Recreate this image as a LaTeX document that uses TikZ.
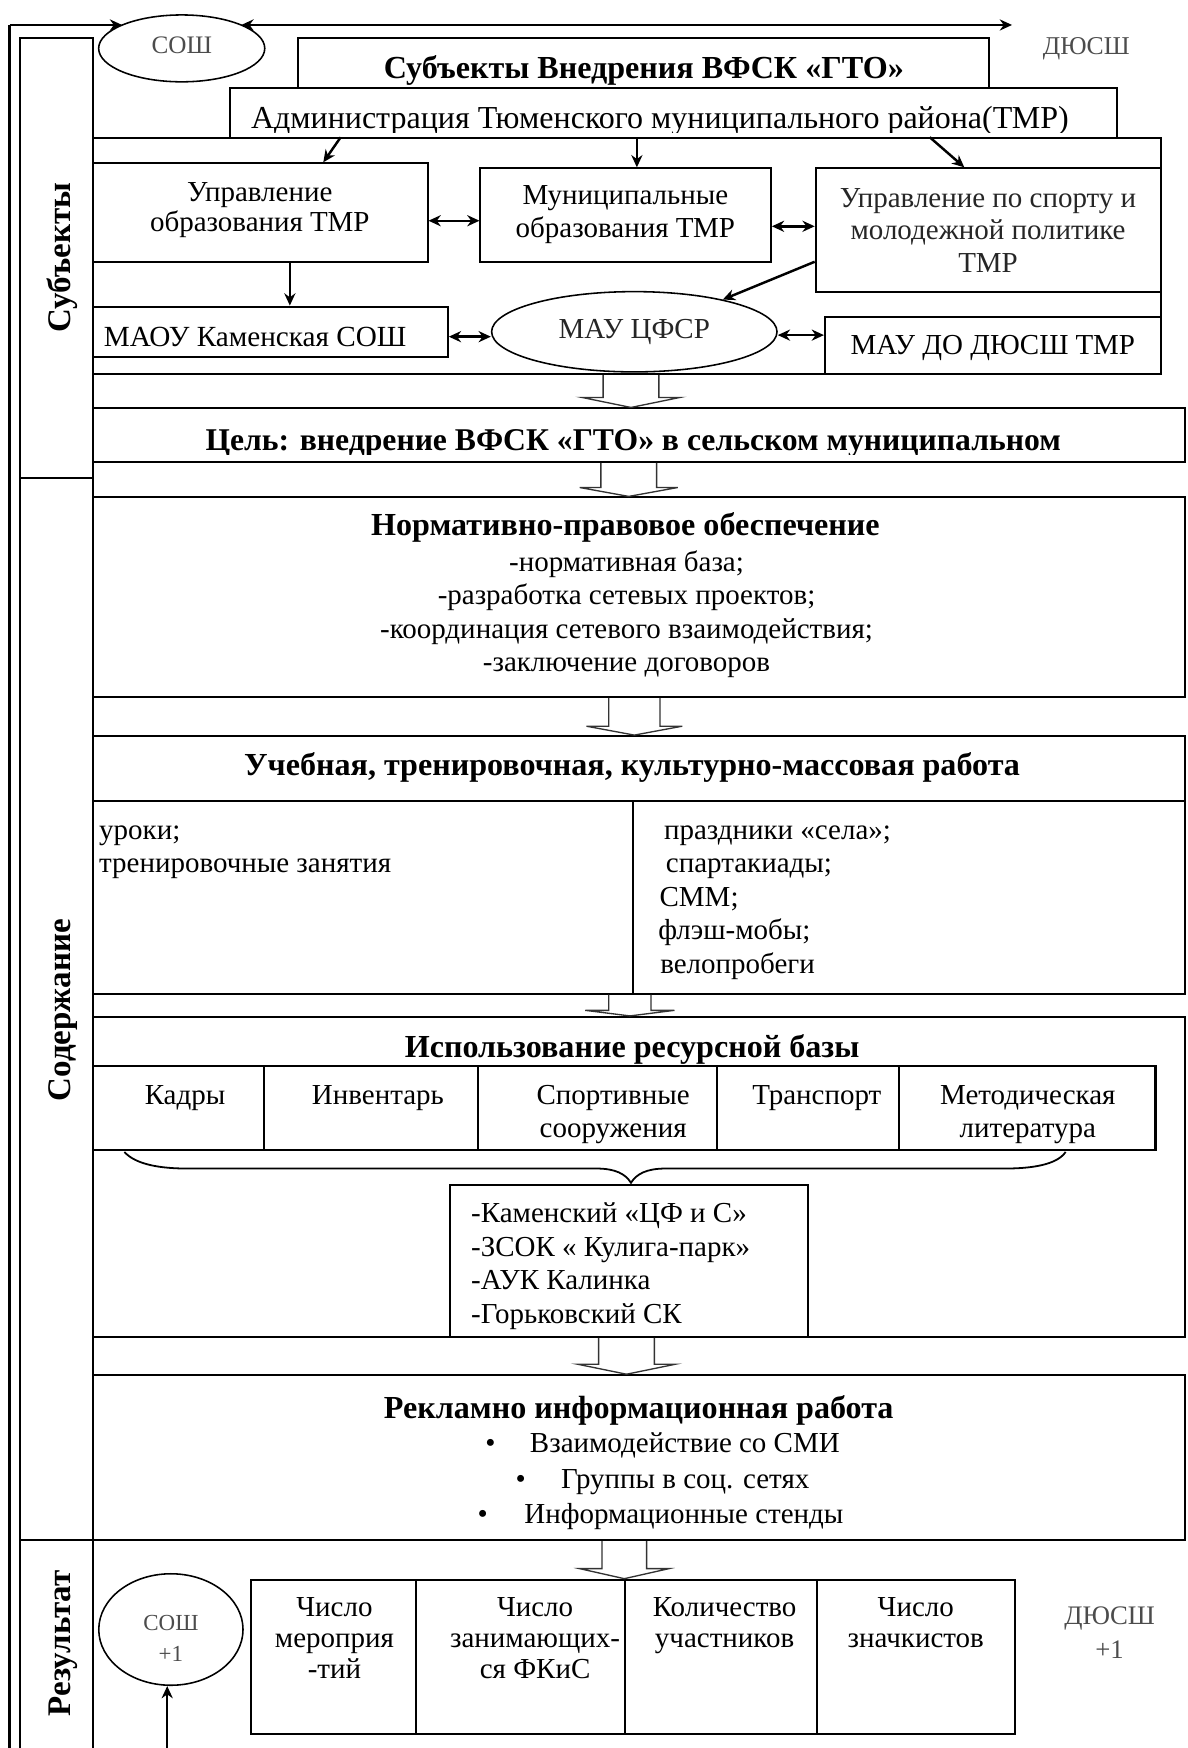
\documentclass[tikz,border=0pt]{standalone}
\usepackage{fontspec}
\setmainfont{Liberation Serif}
\usetikzlibrary{arrows.meta,fit,calc,shapes.geometric}
\newcommand{\ftn}{\fontsize{13}{15}\selectfont}
\newcommand{\fbd}{\fontsize{14.4}{16}\selectfont\bfseries}
\newcommand{\flab}{\fontsize{14.8}{16}\selectfont\bfseries}
\newcommand{\fadm}{\fontsize{14.35}{16}\selectfont}
\newcommand{\fsm}{\fontsize{11.3}{13}\selectfont}
\definecolor{gt}{gray}{0.3}
\tikzset{
  bx/.style={draw, line width=0.9pt, inner sep=0pt, fill=white},
  el/.style={draw, ellipse, line width=0.7pt, inner sep=0pt, fill=white},
  tx/.style={inner sep=0pt, font=\ftn, align=center},
  tb/.style={inner sep=0pt, font=\fbd, align=center},
  lab/.style={inner sep=0pt, font=\flab, rotate=90},
  arr/.style={line width=1.1pt, -{Stealth[length=5.5pt,width=5pt]}},
  dbl/.style={line width=1.1pt, {Stealth[length=5.5pt,width=5pt]}-{Stealth[length=5.5pt,width=5pt]}},
  harr/.style={line width=0.6pt, draw=black!80, line join=miter},
  brc/.style={line width=0.8pt},
}
\newcommand{\hollowarr}[6]{%
  \path (#1,0 |- #5.south) coordinate (hA) (#1,0 |- #6.north) coordinate (hB);
  \draw[harr] ($(hA)+(-#2,0)$) -- ($(hB)+(-#2,-#4)$) -- ($(hB)+(-#3,-#4)$) -- (hB) -- ($(hB)+(#3,-#4)$) -- ($(hB)+(#2,-#4)$) -- ($(hA)+(#2,0)$);}
\begin{document}
\begin{tikzpicture}[x=0.5pt,y=-0.5pt]
\useasboundingbox (0,0) rectangle (1065,1568);
% left column
\node[bx, fit={(18,34.4) (83,429)}] (c1) {};
\node[bx, fit={(18,429) (83,1381.6)}] (c2) {};
\node[bx, fit={(18,1381.6) (83,1585)}] (c3) {};
\node[lab, anchor=base] (l1) at (63,231) {Субъекты};
\node[lab, anchor=base] (l2) at (63,906) {Содержание};
\node[lab, anchor=base] (l3) at (63,1474) {Результат};
% top boxes
\node[bx, fit={(267,33.8) (887,95)}] (ttl) {};
\node[tb, anchor=base] (ttlt) at (577.5,70.3) {Субъекты Внедрения ВФСК «ГТО»};
\node[bx, fit={(206,79.2) (1002,130)}] (adm) {};
\begin{scope}
  \clip (206,79.2) rectangle (1002,119);
  \node[tx, font=\fadm, anchor=base] (admt) at (592,115.5) {Администрация Тюменского муниципального района(ТМР)};
\end{scope}
\node[bx, fit={(83,124) (1041.5,335.6)}] (subj) {};
\node[bx, fit={(83,146.5) (383.5,234.8)}] (uo) {};
\node[tx, anchor=base, font=\fontsize{13}{13.5}\selectfont] (uot) at (233,208) {Управление\\образования ТМР};
\node[bx, fit={(431,151) (691.5,234.8)}] (mun) {};
\node[tx, anchor=base] (munt) at (561,213) {Муниципальные\\образования ТМР};
\node[bx, fit={(731.7,151) (1041.5,261.7)}] (spo) {};
\node[tx, anchor=base, text=black!85, font=\fontsize{13}{14.5}\selectfont] (spot) at (886.3,244) {Управление по спорту и\\молодежной политике\\ТМР};
\node[bx, fit={(83,275) (401.7,320)}] (maou) {};
\node[tx, anchor=base west, font=\fontsize{13.1}{15}\selectfont] (maout) at (92.7,310.5) {МАОУ Каменская СОШ};
\node[el, minimum width=128pt, minimum height=36pt] (cfsr) at (569,297.6) {};
\node[tx, anchor=base, text=black!85] (cfsrt) at (569,304) {МАУ ЦФСР};
\node[bx, fit={(740,284) (1041.5,335.6)}] (mau) {};
\node[tx, anchor=base] (maut) at (890.5,318) {МАУ ДО ДЮСШ ТМР};
% subject arrows
\draw[arr] (305.6,0 |- subj.north) -- (290,0 |- uo.north);
\draw[arr] (571.3,0 |- subj.north) -- (571.3,0 |- mun.north);
\draw[arr] (834,0 |- subj.north) -- (865,0 |- spo.north);
\draw[dbl] (uo.east |- 0,198) -- (mun.west |- 0,198);
\draw[dbl] (mun.east |- 0,203) -- (spo.west |- 0,203);
\draw[arr] (spo.west |- 0,234.8) -- (cfsr.20);
\draw[arr] (260,0 |- uo.south) -- (260,0 |- maou.north);
\draw[dbl] (maou.east |- 0,302) -- (cfsr.west |- 0,302);
\draw[dbl] (cfsr.east |- 0,300.6) -- (mau.west |- 0,300.6);
% goal
\node[bx, fit={(83,366.4) (1063,414.2)}] (cel) {};
\begin{scope}
  \clip (83,366.4) rectangle (1063,407.5);
  \node[tb, anchor=base, font=\fontsize{14.2}{16}\selectfont\bfseries] (celt) at (568,404.4) {Цель: внедрение ВФСК «ГТО» в сельском муниципальном};
\end{scope}
\hollowarr{566}{25}{44}{9}{subj}{cel}
% normative
\node[bx, fit={(83,446.2) (1063,625)}] (norm) {};
\node[tb, anchor=base] (normt) at (561,480) {Нормативно-правовое обеспечение};
\node[tx, anchor=base] (norml) at (562,602.5) {-нормативная база;\\-разработка сетевых проектов;\\-координация сетевого взаимодействия;\\-заключение договоров};
\hollowarr{564}{25}{44}{8}{cel}{norm}
% educational
\node[bx, fit={(83,660.3) (1063,718.3)}] (uch) {};
\node[tb, anchor=base] (ucht) at (567,696) {Учебная, тренировочная, культурно-массовая работа};
\node[bx, fit={(83,718.3) (568,891.2)}] (uchl) {};
\node[bx, fit={(568,718.3) (1063,891.2)}] (uchr) {};
\node[tx, anchor=base west, align=left] (uchlt) at (88.6,783) {уроки;\\тренировочные занятия};
\node[tx, anchor=base west] (ur1) at (595.3,753) {праздники «села»;};
\node[tx, anchor=base west] (ur2) at (597,783) {спартакиады;};
\node[tx, anchor=base west] (ur3) at (591.3,813) {СММ;};
\node[tx, anchor=base west] (ur4) at (590.2,843) {флэш-мобы;};
\node[tx, anchor=base west] (ur5) at (591.9,873) {велопробеги};
\hollowarr{569}{23}{43}{8}{norm}{uch}
% resources
\node[bx, fit={(83,912.2) (1063,1199.3)}] (isp) {};
\node[tb, anchor=base] (ispt) at (567,949) {Использование ресурсной базы};
\node[bx, fit={(83,956.4) (236.9,1031.8)}] (k1) {};
\node[bx, fit={(236.9,956.4) (428.5,1031.8)}] (k2) {};
\node[bx, fit={(428.5,956.4) (643.3,1031.8)}] (k3) {};
\node[bx, fit={(643.3,956.4) (806.6,1031.8)}] (k4) {};
\node[bx, fit={(806.6,956.4) (1036.5,1031.8)}] (k5) {};
\node[tx, anchor=base] (k1t) at (166,991) {Кадры};
\node[tx, anchor=base] (k2t) at (339,991) {Инвентарь};
\node[tx, anchor=base, font=\fontsize{13}{14.5}\selectfont] (k3t) at (550,1020) {Спортивные\\сооружения};
\node[tx, anchor=base] (k4t) at (732.7,991) {Транспорт};
\node[tx, anchor=base, font=\fontsize{13}{14.5}\selectfont] (k5t) at (922,1020) {Методическая\\литература};
\hollowarr{565}{19}{40}{5}{uchl}{isp}
\draw[brc] (111.6,1033.3) .. controls (122,1045) and (145,1048.2) .. (168.2,1048.2) -- (535,1048.2) .. controls (552,1048.2) and (561,1053) .. (566,1061) .. controls (571,1053) and (580,1048.2) .. (597,1048.2) -- (901,1048.2) .. controls (925,1048.2) and (948,1045) .. (955.9,1033.3);
\node[bx, fit={(403.4,1063) (725,1199.3)}] (lst) {};
\node[tx, anchor=base west, align=left] (lstt) at (422.3,1187) {-Каменский «ЦФ и С»\\-ЗСОК « Кулига-парк»\\-АУК Калинка\\-Горьковский СК};
% advertising
\node[bx, fit={(83,1233.6) (1063,1381.6)}] (rek) {};
\node[tb, anchor=base] (rekt) at (573,1272) {Рекламно информационная работа};
\node[tx, anchor=base] (b1) at (440,1303) {•};
\node[tx, anchor=base west] (b1t) at (475,1303) {Взаимодействие со СМИ};
\node[tx, anchor=base] (b2) at (467,1335) {•};
\node[tx, anchor=base west] (b2t) at (503,1335) {Группы в соц. сетях};
\node[tx, anchor=base] (b3) at (433,1367) {•};
\node[tx, anchor=base west] (b3t) at (470,1367) {Информационные стенды};
\hollowarr{562}{25}{44}{9}{isp}{rek}
% results
\node[bx, fit={(224.9,1417) (373.6,1555)}] (r1) {};
\node[bx, fit={(373.6,1417) (561,1555)}] (r2) {};
\node[bx, fit={(561,1417) (732.7,1555)}] (r3) {};
\node[bx, fit={(732.7,1417) (910.6,1555)}] (r4) {};
\node[tx, anchor=base, font=\fontsize{13}{14}\selectfont] (r1t) at (300,1506) {Число\\мероприя\\-тий};
\node[tx, anchor=base, font=\fontsize{13}{14}\selectfont] (r2t) at (480,1506) {Число\\занимающих-\\ся ФКиС};
\node[tx, anchor=base, font=\fontsize{13}{14}\selectfont] (r3t) at (650,1478) {Количество\\участников};
\node[tx, anchor=base, font=\fontsize{13}{14}\selectfont] (r4t) at (821.5,1478) {Число\\значкистов};
\hollowarr{560}{20}{40}{9}{rek}{r2}
\node[el, minimum width=64.7pt, minimum height=50pt] (soh1) at (153.3,1461.7) {};
\node[tx, anchor=base, text=gt, font=\fontsize{10.3}{13.75}\selectfont] (soh1t) at (153.3,1490) {СОШ\\+1};
\node[tx, anchor=base, text=gt, font=\fontsize{12}{15.5}\selectfont] (dyu1) at (995.3,1488) {ДЮСШ\\+1};
\coordinate (bst) at (150,1568);
\draw[arr] (bst) -- (bst |- soh1.south);
% top line
\node[el, minimum width=74.5pt, minimum height=30pt] (soh) at (163,43.4) {};
\node[tx, anchor=base, text=gt, font=\fsm] (soht) at (163,47.8) {СОШ};
\node[tx, anchor=base, text=gt, font=\fontsize{11.5}{13}\selectfont] (dyu) at (974.4,49) {ДЮСШ};
\coordinate (tl) at (8.6,22.4);
\coordinate (tr) at (907.8,22.4);
\coordinate (bl) at (8.6,1568);
\draw[line width=1.1pt] (bl) -- (tl);
\draw[arr] (tl) -- (tl -| soh.158);
\draw[dbl] (tl -| soh.22) -- (tr);
\end{tikzpicture}
\end{document}
